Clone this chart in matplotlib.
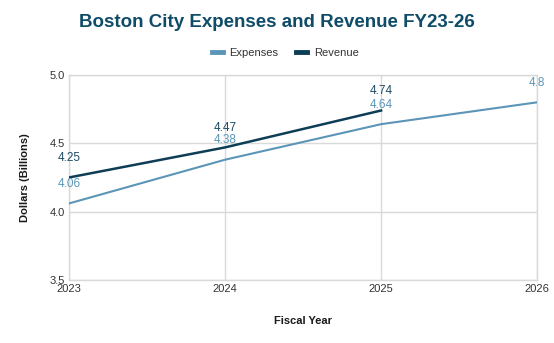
#!/usr/bin/env python3

import matplotlib
matplotlib.use("Agg")
import matplotlib.pyplot as plt
from matplotlib.lines import Line2D

years = [2023, 2024, 2025, 2026]
expenses = [4.06, 4.38, 4.64, 4.8]
revenue_years = [2023, 2024, 2025]
revenue = [4.25, 4.47, 4.74]
yticks = [3.5, 4.0, 4.5, 5.0]

expColor = "#5b95b7"
revColor = "#0e3d56"
gridColor = "#d9d9d9"

plt.rcParams["font.family"] = ["Liberation Sans", "DejaVu Sans"]

fig = plt.figure(figsize=(5.54, 3.43), dpi=100)
ax = fig.add_axes([0.1245, 0.1837, 0.845, 0.5977])

ax.plot(years, expenses, color=expColor, linewidth=1.5, label="Expenses", zorder=3)
ax.plot(revenue_years, revenue, color=revColor, linewidth=1.8, label="Revenue", zorder=3)

for x, y in zip(years, expenses):
    ax.annotate(f"{y:g}", (x, y), xytext=(0, 14), textcoords="offset points",
                ha="center", va="center", fontsize=8.5, color=expColor, annotation_clip=False)
for x, y in zip(revenue_years, revenue):
    ax.annotate(f"{y:g}", (x, y), xytext=(0, 14), textcoords="offset points",
                ha="center", va="center", fontsize=8.5, color="#1c4a64", annotation_clip=False)

ax.set_xlim(2023, 2026)
ax.set_ylim(3.5, 5.0)
ax.set_xticks(years)
ax.set_xticklabels([str(y) for y in years])
ax.set_yticks(yticks)
ax.set_yticklabels([f"{v:.1f}" for v in yticks])
ax.tick_params(length=0, labelsize=8, colors="#333333", pad=3)
ax.grid(True, color=gridColor, linewidth=1)
ax.set_axisbelow(True)
for s in ax.spines.values():
    s.set_color(gridColor)
    s.set_linewidth(1)

ax.set_xlabel("Fiscal Year", fontsize=8, fontweight="bold", color="#1a1a1a", labelpad=16)
ax.set_ylabel("Dollars (Billions)", fontsize=8, fontweight="bold", color="#1a1a1a", labelpad=14)

fig.text(0.5, 0.933, "Boston City Expenses and Revenue FY23-26", ha="center", va="center",
         fontsize=13.5, fontweight="bold", color="#0f4c68")

handles = [Line2D([], [], color=expColor, linewidth=3.5), Line2D([], [], color=revColor, linewidth=3.5)]
fig.legend(handles, ["Expenses", "Revenue"], loc="center", bbox_to_anchor=(0.515, 0.845),
           ncol=2, frameon=False, fontsize=8, handlelength=1.0, handletextpad=0.6,
           columnspacing=1.6, labelcolor="#333333")

fig.savefig("out.png", dpi=100)
